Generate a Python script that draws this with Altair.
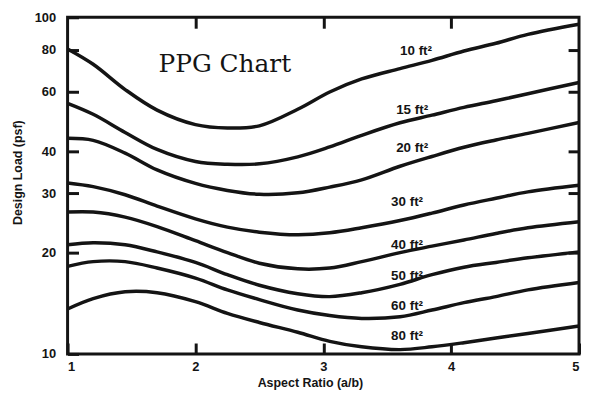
import altair as alt
import pandas as pd

# ---- data ----
aspect = [1.0, 1.2, 1.45, 1.7, 2.0, 2.25, 2.5, 2.8, 3.05, 3.3, 3.6, 3.85, 4.1, 4.35, 4.6, 5.0]
load_10 = [80.5, 72.5, 61.0, 53.0, 48.0, 46.9, 47.6, 53.3, 60.0, 65.6, 70.4, 74.5, 79.4, 83.7, 89.0, 95.4]
load_15 = [55.5, 51.5, 45.5, 40.5, 37.3, 36.6, 36.7, 38.5, 41.2, 44.6, 48.6, 51.2, 54.0, 56.5, 59.3, 64.0]
load_20 = [43.7, 43.1, 39.5, 35.2, 32.1, 30.6, 29.8, 30.1, 31.3, 32.9, 36.1, 38.6, 41.1, 43.2, 45.2, 48.7]
load_30 = [32.2, 31.4, 29.7, 27.5, 25.2, 23.8, 23.0, 22.6, 22.9, 23.7, 24.9, 26.2, 27.7, 29.0, 30.3, 31.7]
load_40 = [26.4, 26.4, 25.5, 23.9, 21.7, 20.0, 18.6, 17.9, 18.0, 18.8, 20.0, 20.9, 21.8, 22.8, 23.7, 24.7]
load_50 = [21.1, 21.4, 21.1, 20.1, 18.7, 17.2, 16.0, 15.1, 14.8, 15.2, 16.1, 17.2, 18.1, 18.7, 19.3, 20.1]
load_60 = [18.2, 18.8, 18.8, 18.0, 16.8, 15.5, 14.5, 13.5, 13.0, 12.75, 12.9, 13.5, 14.2, 14.8, 15.5, 16.3]
load_80 = [13.6, 14.6, 15.3, 15.2, 14.3, 13.2, 12.4, 11.6, 10.9, 10.5, 10.3, 10.5, 10.8, 11.15, 11.5, 12.1]

areas = ["10 ft²", "15 ft²", "20 ft²", "30 ft²", "40 ft²", "50 ft²", "60 ft²", "80 ft²"]
series = [load_10, load_15, load_20, load_30, load_40, load_50, load_60, load_80]

# curve label anchors (data coordinates)
label_x = [3.60, 3.57, 3.57, 3.53, 3.53, 3.53, 3.53, 3.53]
label_y = [79.4, 53.2, 40.8, 28.3, 21.1, 17.0, 13.9, 11.3]

chart_title = ["PPG Chart"]
title_x = [2.23]
title_y = [72.7]

y_ticks = [10, 20, 30, 40, 60, 80, 100]
y_minor_marks = [20, 30, 40, 60, 80]
x_ticks = [1, 2, 3, 4, 5]
x_minor_marks = [2, 3, 4]

# ---- tables ----
rows = []
for name, vals in zip(areas, series):
    for a, v in zip(aspect, vals):
        rows.append({"area": name, "aspect": a, "load": v})
curves = pd.DataFrame(rows)
labels = pd.DataFrame({"aspect": label_x, "load": label_y, "text": areas})
title_df = pd.DataFrame({"aspect": title_x, "load": title_y, "text": chart_title})

W, H = 515, 339
INK = "#141414"
SANS = "Liberation Sans Narrow, Arial Narrow, Liberation Sans, Arial"
TL = 11  # inward tick length

x_scale = alt.Scale(domain=[1, 5], nice=False, zero=False)
y_scale = alt.Scale(type="log", domain=[10, 100], nice=False)

# main axes (left / bottom) pulled inward so their ticks sit inside the frame
X = alt.X("aspect:Q", scale=x_scale,
          axis=alt.Axis(values=x_ticks, format="d", title="Aspect Ratio (a/b)",
                        orient="bottom", offset=-TL, ticks=True, tickSize=TL,
                        labelPadding=7, titleX=244, titleY=29 + TL, titleBaseline="middle"))
Y = alt.Y("load:Q", scale=y_scale,
          axis=alt.Axis(values=y_ticks, format="d", title="Design Load (psf)",
                        orient="left", offset=-TL, ticks=True, tickSize=TL,
                        labelPadding=12, titleX=-50 - TL, titleY=156, titleBaseline="middle"))
# mirrored tick-only axes (top / right)
X_top = alt.X("aspect:Q", scale=x_scale,
              axis=alt.Axis(values=x_minor_marks, orient="top", offset=-TL, ticks=True,
                            tickSize=TL, labels=False, title=""))
Y_right = alt.Y("load:Q", scale=y_scale,
                axis=alt.Axis(values=y_minor_marks, orient="right", offset=-TL, ticks=True,
                              tickSize=TL, labels=False, title=""))
Xn = alt.X("aspect:Q", scale=x_scale, axis=None)
Yn = alt.Y("load:Q", scale=y_scale, axis=None)

lines = alt.Chart(curves).mark_line(
    color=INK, strokeWidth=3.5, interpolate="catmull-rom"
).encode(x=X, y=Y, detail="area:N", order="aspect:Q")

curve_labels = alt.Chart(labels).mark_text(
    align="left", baseline="middle", font=SANS, fontSize=13.5, fontWeight="bold", color=INK
).encode(x=X_top, y=Y_right, text="text:N")

title_mark = alt.Chart(title_df).mark_text(
    align="center", baseline="middle", font="DejaVu Serif", fontSize=25, color=INK
).encode(x=Xn, y=Yn, text="text:N")

chart = alt.layer(
    lines, curve_labels, title_mark
).resolve_axis(
    x="independent", y="independent"
).properties(
    width=W, height=H,
    autosize=alt.AutoSizeParams(type="none"),
    padding={"left": 60, "top": 8, "right": 2, "bottom": 40},
    background="white",
).configure_view(
    stroke=INK, strokeWidth=3
).configure_axis(
    domain=False, grid=False, tickColor=INK, tickWidth=3,
    labelFont=SANS, labelFontSize=13, labelFontWeight="bold", labelColor=INK,
    titleFont=SANS, titleFontSize=12.5, titleFontWeight="bold", titleColor=INK,
)

chart.save("out.html", embed_options={"renderer": "svg", "actions": False})
